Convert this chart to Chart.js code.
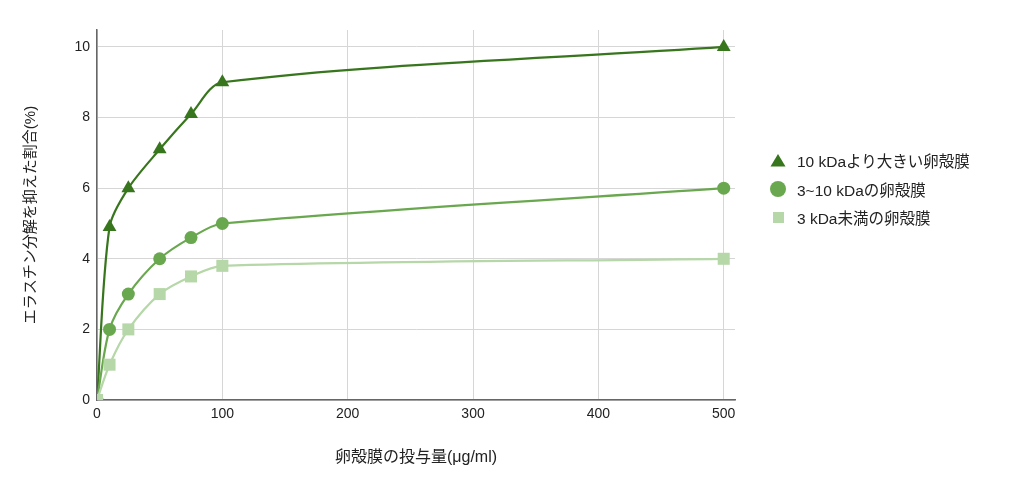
<!DOCTYPE html>
<html>
<head>
<meta charset="utf-8">
<script src="https://cdn.jsdelivr.net/npm/chart.js@4"></script>
<style>
  html, body { margin: 0; padding: 0; background: #fff; }
  #wrap { position: relative; width: 1024px; height: 486px; }
  #legend { position: absolute; left: 768px; top: 146px; font-family: "Liberation Sans", "Noto Sans CJK JP", sans-serif; font-size: 15.5px; color: #222; }
  #legend div { height: 28.5px; display: flex; align-items: center; }
  #legend .mk { width: 20px; display: inline-flex; justify-content: center; margin-right: 9px; }
</style>
</head>
<body>
<div id="wrap">
  <canvas id="c" width="1024" height="486"></canvas>
  <div id="legend"></div>
</div>
<script>
const doses = [0, 10, 25, 50, 75, 100, 500];
const over10k = [0, 4.9, 6.0, 7.1, 8.1, 9.0, 10.0];
const mid3to10k = [0, 2.0, 3.0, 4.0, 4.6, 5.0, 6.0];
const under3k = [0, 1.0, 2.0, 3.0, 3.5, 3.8, 4.0];
const seriesNames = ['10 kDaより大きい卵殻膜', '3~10 kDaの卵殻膜', '3 kDa未満の卵殻膜'];
const xTicks = [0, 100, 200, 300, 400, 500];
const yTicks = [0, 2, 4, 6, 8, 10];

const COLORS = ['#38761d', '#6aa84f', '#b6d7a8'];
const STYLES = ['triangle', 'circle', 'rect'];
const RADII = [8, 6.5, 8.5];
const FONT = '"Liberation Sans", "Noto Sans CJK JP", sans-serif';

function pts(ys) { return doses.map((x, i) => ({ x, y: ys[i] })); }

const datasets = [over10k, mid3to10k, under3k].map((ys, i) => ({
  label: seriesNames[i],
  data: pts(ys),
  borderColor: COLORS[i],
  backgroundColor: COLORS[i],
  borderWidth: 2.2,
  pointStyle: STYLES[i],
  pointRadius: RADII[i],
  pointBorderWidth: 0,
  tension: 0.3,
  clip: 0,
  order: 3 - i,
}));

new Chart(document.getElementById('c'), {
  type: 'line',
  data: { datasets },
  options: {
    responsive: false,
    animation: false,
    layout: { padding: { left: 0, top: 30, right: 289, bottom: 0 } },
    plugins: { legend: { display: false }, tooltip: { enabled: false } },
    scales: {
      x: {
        type: 'linear', min: 0, max: 509,
        afterBuildTicks: (s) => { s.ticks = xTicks.map(v => ({ value: v })); },
        afterFit: (s) => { s.height = 86; },
        grid: { color: '#d6d6d6', drawTicks: false, lineWidth: 1 },
        border: { color: '#666', width: 1.5 },
        ticks: { padding: 6, color: '#222', font: { family: FONT, size: 14 } },
        title: { display: true, text: '卵殻膜の投与量(μg/ml)', color: '#222', font: { family: FONT, size: 16 }, padding: { bottom: 19 } },
      },
      y: {
        type: 'linear', min: 0, max: 10.48,
        afterBuildTicks: (s) => { s.ticks = yTicks.map(v => ({ value: v })); },
        afterFit: (s) => { s.width = 97; },
        grid: { color: '#d6d6d6', drawTicks: false, lineWidth: 1 },
        border: { color: '#666', width: 1.5 },
        ticks: { padding: 7, color: '#222', font: { family: FONT, size: 14 } },
        title: { display: true, text: 'エラスチン分解を抑えた割合(%)', color: '#222', font: { family: FONT, size: 15 }, padding: { top: 22 } },
      },
    },
  },
});

const lg = document.getElementById('legend');
seriesNames.forEach((name, i) => {
  const row = document.createElement('div');
  let mk;
  if (STYLES[i] === 'triangle') mk = `<svg width="16" height="14"><polygon points="8,1 15.5,13.5 0.5,13.5" fill="${COLORS[i]}"/></svg>`;
  else if (STYLES[i] === 'circle') mk = `<svg width="16" height="16"><circle cx="8" cy="8" r="8" fill="${COLORS[i]}"/></svg>`;
  else mk = `<svg width="11" height="11"><rect x="0" y="0" width="11" height="11" fill="${COLORS[i]}"/></svg>`;
  row.innerHTML = `<span class="mk">${mk}</span><span>${name}</span>`;
  lg.appendChild(row);
});
</script>
</body>
</html>
